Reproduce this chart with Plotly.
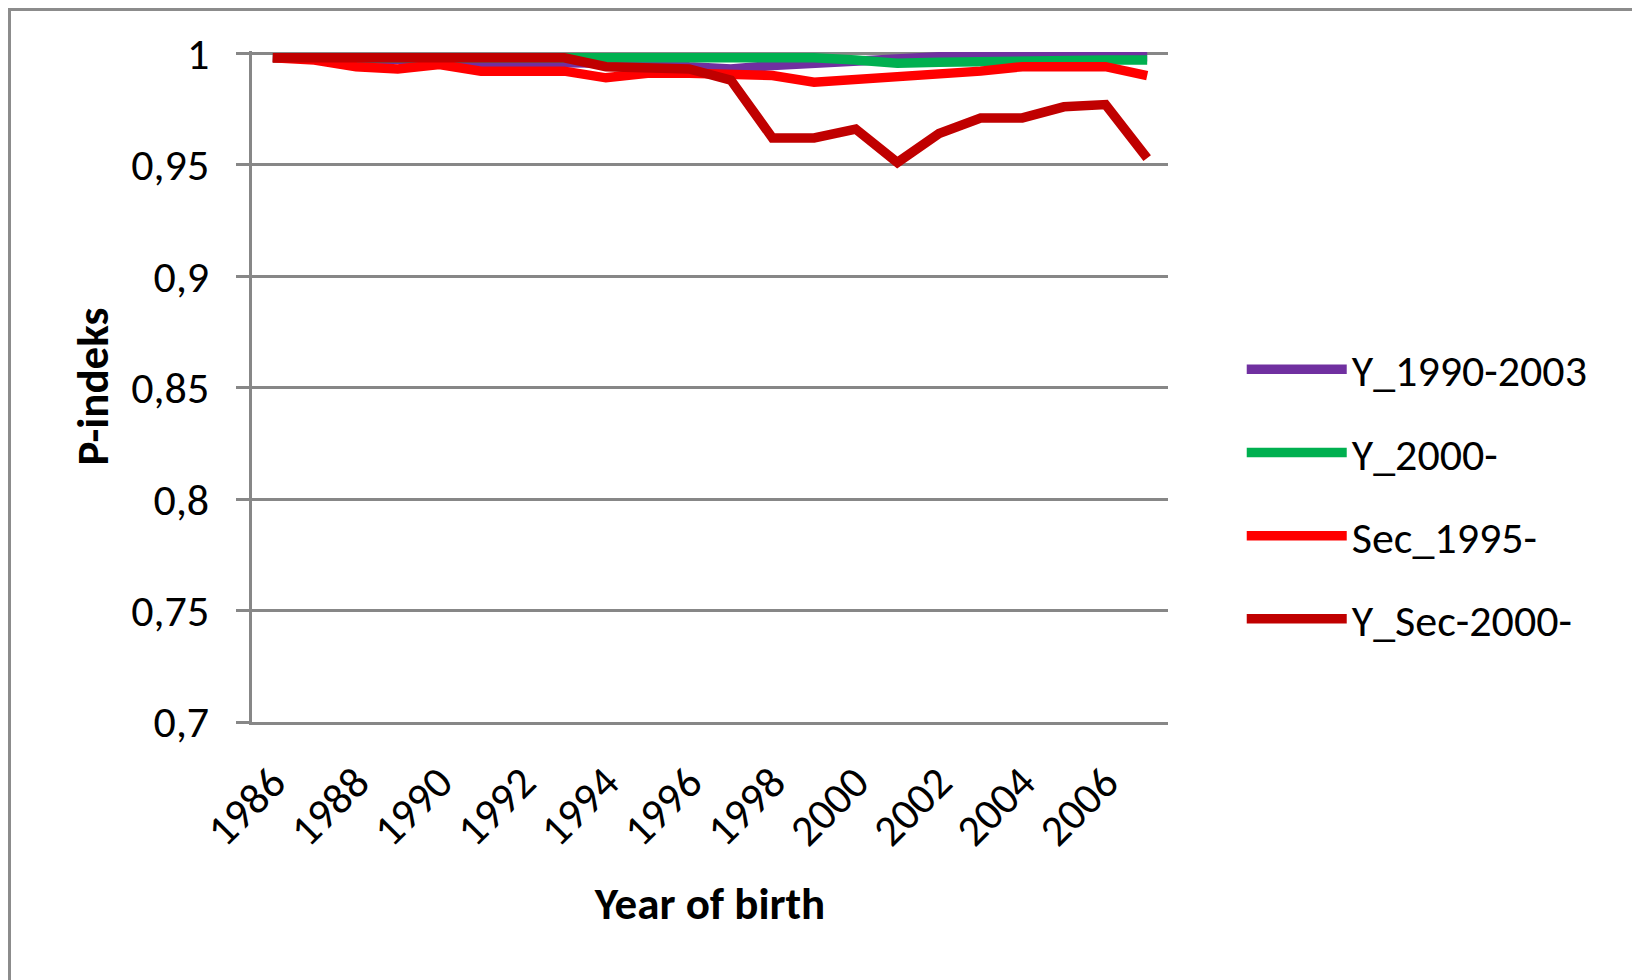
import plotly.graph_objects as go

years = list(range(1986, 2008))

y_1990_2003 = [0.998, 0.998, 0.998, 0.998, 0.997, 0.996, 0.996, 0.996, 0.9955, 0.9955, 0.994,
               0.993, 0.9945, 0.9955, 0.997, 0.998, 0.9985, 0.9985, 0.9985, 0.9985, 0.9985, 0.9985]
y_2000 = [0.998, 0.998, 0.998, 0.998, 0.998, 0.998, 0.998, 0.9983, 0.9984, 0.9984, 0.9984,
          0.998, 0.998, 0.998, 0.997, 0.9955, 0.996, 0.9965, 0.997, 0.997, 0.997, 0.997]
sec_1995 = [0.998, 0.997, 0.994, 0.993, 0.995, 0.992, 0.992, 0.992, 0.989, 0.991, 0.991,
            0.990, 0.990, 0.987, 0.988, 0.989, 0.990, 0.992, 0.994, 0.994, 0.994, 0.990]
y_sec_2000 = [0.998, 0.998, 0.998, 0.998, 0.998, 0.998, 0.998, 0.998, 0.994, 0.994, 0.993,
              0.988, 0.962, 0.962, 0.966, 0.951, 0.964, 0.971, 0.971, 0.976, 0.977, 0.953]

series_names = ["Y_1990-2003", "Y_2000-", "Sec_1995-", "Y_Sec-2000-"]
series_values = [y_1990_2003, y_2000, sec_1995, y_sec_2000]
series_colors = ["#7030A0", "#00B050", "#FF0000", "#C00000"]

x_tick_vals = list(range(1986, 2008, 2))
x_tick_text = [str(v) for v in x_tick_vals]
y_tick_vals = [0.7, 0.75, 0.8, 0.85, 0.9, 0.95, 1.0]
y_tick_text = ["0,7", "0,75", "0,8", "0,85", "0,9", "0,95", "1"]

FONT = "Carlito, Lato, 'Open Sans', sans-serif"
GRID = "#878787"
TICK_SIZE = 44
TITLE_SIZE = 45

fig = go.Figure()
for i, (name, vals, col) in enumerate(zip(series_names, series_values, series_colors)):
    fig.add_trace(go.Scatter(
        x=years, y=vals, name=name, mode="lines",
        line=dict(color=col, width=9.5),
        legendgroup=f"g{i}",
    ))

L, R, T, B = 244, 1160, 43, 714
W, H = 1640, 980
pw, ph = R - L, B - T

fig.update_layout(
    width=W, height=H,
    paper_bgcolor="white", plot_bgcolor="white",
    margin=dict(l=L, r=W - R, t=T, b=H - B),
    font=dict(family=FONT, size=TICK_SIZE, color="black"),
    showlegend=True,
    legend=dict(
        x=1.0805, y=0.578, xanchor="left", yanchor="top",
        font=dict(family=FONT, size=TICK_SIZE, color="black"),
        itemwidth=100, tracegroupgap=23,
        bgcolor="rgba(0,0,0,0)",
    ),
    xaxis=dict(
        range=[1985.5, 2007.5],
        tickmode="array", tickvals=x_tick_vals, ticktext=x_tick_text,
        tickangle=-45,
        showgrid=False, zeroline=False,
        showline=True, linecolor=GRID, linewidth=3,
        ticks="",
        ticklabelstandoff=14,
        tickfont=dict(family=FONT, size=TICK_SIZE, color="black"),
        title=dict(text="<b>Year of birth</b>",
                   font=dict(family=FONT, size=TITLE_SIZE, color="black"),
                   standoff=32),
    ),
    yaxis=dict(
        range=[0.7, 1.00103],
        tickmode="array", tickvals=y_tick_vals, ticktext=y_tick_text,
        showgrid=True, gridcolor=GRID, gridwidth=3,
        zeroline=False,
        showline=True, linecolor=GRID, linewidth=3,
        ticks="outside", ticklen=13, tickwidth=3, tickcolor=GRID,
        ticklabelstandoff=18,
        tickfont=dict(family=FONT, size=TICK_SIZE, color="black"),
        title=dict(text="<b>P-indeks</b>",
                   font=dict(family=FONT, size=TITLE_SIZE, color="black"),
                   standoff=9),
    ),
    shapes=[dict(
        type="rect", xref="paper", yref="paper",
        x0=(1.5 - L) / pw, x1=(1629 - L) / pw,
        y0=(B - 1000) / ph, y1=(B - 1.5) / ph,
        line=dict(color="#8C8C8C", width=3), fillcolor="rgba(0,0,0,0)", layer="below",
    )],
)

fig.write_html("out.html")
